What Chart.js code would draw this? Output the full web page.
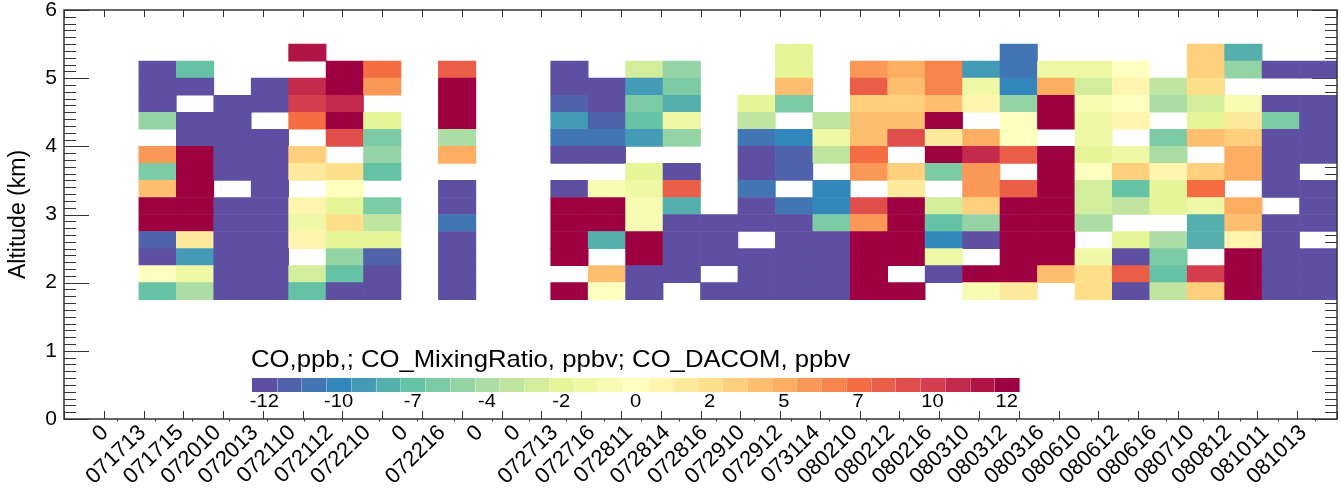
<!DOCTYPE html>
<html>
<head>
<meta charset="utf-8">
<script src="https://cdn.jsdelivr.net/npm/chart.js@4.4.1/dist/chart.umd.min.js"></script>
<style>
  html, body { margin: 0; padding: 0; background: #fff; }
  #wrap { width: 1341px; height: 492px; }
</style>
</head>
<body>
<div id="wrap"><canvas id="chart" width="1341" height="492"></canvas></div>
<script>
// flight/profile labels along x (one per column, first column has none)
const dates = ['0', '071713', '071715', '072010', '072013', '072110', '072112', '072210', '0', '072216',
  '0', '0', '072713', '072716', '072811', '072814', '072816', '072910', '072912', '073114',
  '080210', '080212', '080216', '080310', '080312', '080316', '080610', '080612', '080616',
  '080710', '080812', '081011', '081013'];

// altitude bins (bottom of each bin, km)
const altBottom = [1.75, 2.0, 2.25, 2.5, 2.75, 3.0, 3.25, 3.5, 3.75, 4.0, 4.25, 4.5, 4.75, 5.0, 5.25];
const binDepth = 0.25;

// colour bar
const cbarLabels = ['-12', '-10', '-7', '-4', '-2', '0', '2', '5', '7', '10', '12'];
const cbarMin = -12;
const cbarMax = 12;
const cbarLevels = 31;

// CO difference (ppb) per column, bins bottom -> top, null = no data
const n = null;
const co = [
  [n, n, n, n, n, n, n, n, n, n, n, n, n, n, n],
  [n, n, n, n, n, n, n, n, n, n, n, n, n, n, n],
  [-7.2, 0, -12, -11.2, 12, 12, 4.0, -6.4, 5.6, n, -5.6, -12, -12, -12, n],
  [-4.8, -1.6, -8.8, 1.6, 12, 12, 12, 12, 12, -12, -12, n, -12, -7.2, n],
  [-12, -12, -12, -12, -12, -12, n, -12, -12, -12, -12, -12, n, n, n],
  [-12, -12, -12, -12, -12, -12, -12, -12, -12, -12, n, -12, -12, n, n],
  [-7.2, -3.2, n, 0.8, -1.6, 0.8, n, 1.6, 3.2, n, 7.2, 9.6, 10.4, n, 11.2],
  [-12, -7.2, -5.6, -2.4, 2.4, -2.4, 0, 2.4, n, 8.8, 12, 10.4, 12, 12, n],
  [-12, -12, -11.2, -2.4, -4.0, -6.4, n, -7.2, -5.6, -6.4, -2.4, n, 5.6, 7.2, n],
  [n, n, n, n, n, n, n, n, n, n, n, n, n, n, n],
  [-12, -12, -12, -12, -10.4, -12, -12, n, 4.8, -4.8, 12, 12, 12, 8.0, n],
  [n, n, n, n, n, n, n, n, n, n, n, n, n, n, n],
  [n, n, n, n, n, n, n, n, n, n, n, n, n, n, n],
  [12, n, 12, 12, 12, 12, -12, n, -12, -10.4, -8.8, -11.2, -12, -12, n],
  [0, 4.0, n, -8.0, 12, 12, -0.8, n, -12, -10.4, -11.2, -12, -12, n, n],
  [-12, -12, 12, 12, -0.8, -0.8, -1.6, -2.4, n, -8.8, -7.2, -6.4, -8.8, -3.2, n],
  [n, -12, -12, -12, -12, -8.0, 8.0, -12, n, -5.6, -1.6, -8.0, -6.4, -5.6, n],
  [-12, n, -12, -12, -12, n, n, n, n, n, n, n, n, n, n],
  [-12, -12, -12, n, -12, -12, -10.4, -12, -12, -10.4, -4.0, -2.4, n, n, n],
  [-12, -12, -12, -12, -12, -10.4, n, -11.2, -11.2, -9.6, n, -6.4, 4.0, -2.4, -2.4],
  [-12, -12, -12, -12, -6.4, -9.6, -9.6, n, -4.0, -1.6, -4.0, n, n, n, n],
  [12, 12, 12, 12, 5.6, 8.8, n, 5.6, 7.2, 4.0, 4.0, 3.2, 8.0, 5.6, n],
  [12, n, 12, 12, 12, 12, 1.6, 3.2, n, 8.8, 4.0, 3.2, 4.0, 4.8, n],
  [n, -12, -1.6, -9.6, -7.2, -3.2, n, -6.4, 12, 1.6, 12, 4.0, 6.4, 6.4, n],
  [-0.8, 12, n, -12, -5.6, 3.2, 5.6, 5.6, 10.4, 4.8, n, 0.8, -1.6, -8.8, n],
  [1.6, 12, 12, 12, 12, 12, 8.0, n, 8.0, 0, 0, -5.6, -9.6, -10.4, -10.4],
  [n, 4.0, 12, 12, 12, 12, 12, 12, 12, n, 12, 12, 4.8, -1.6, n],
  [2.4, 2.4, -1.6, n, -4.8, -3.2, -3.2, 0, -2.4, -1.6, -1.6, -0.8, -3.2, -1.6, n],
  [-12, 8.0, -12, -2.4, n, -4.0, -7.2, 3.2, -1.6, n, 0.8, 0, 0.8, 0, n],
  [-4.0, -7.2, -6.4, -4.8, n, -2.4, -2.4, 0.8, -4.8, -6.4, n, -4.8, -4.0, n, n],
  [3.2, 9.6, n, -8.0, -8.0, -1.6, 7.2, 3.2, n, 4.0, -2.4, -3.2, 2.4, 3.2, 3.2],
  [12, 12, 12, 0.8, 4.0, 4.8, n, 4.8, 4.8, 3.2, 1.6, -0.8, n, -5.6, -8.0],
  [-12, -12, -12, -12, -12, n, -12, -12, -12, -12, -6.4, -12, n, -12, n],
  [-12, -12, -12, n, -12, -12, -12, n, -12, -12, -12, -12, n, -12, n]
];

const FONT = '"Liberation Sans", Arial, Helvetica, sans-serif';

// Spectral, reversed (low = purple, high = dark red)
const spectralR = ['#5e4fa2', '#3288bd', '#66c2a5', '#abdda4', '#e6f598', '#ffffbf',
  '#fee08b', '#fdae61', '#f46d43', '#d53e4f', '#9e0142'];
function hexRgb(h) { return [1, 3, 5].map(i => parseInt(h.slice(i, i + 2), 16)); }
function cmap(t) {
  const p = Math.max(0, Math.min(1, t)) * 10;
  const i = Math.min(9, Math.floor(p));
  const f = p - i;
  const a = hexRgb(spectralR[i]), b = hexRgb(spectralR[i + 1]);
  return 'rgb(' + a.map((v, j) => Math.round(v + (b[j] - v) * f)).join(',') + ')';
}
const levelColors = [];
for (let k = 0; k < cbarLevels; k++) levelColors.push(cmap(k / (cbarLevels - 1)));
function colorFor(v) {
  let k = Math.round((v - cbarMin) / (cbarMax - cbarMin) * (cbarLevels - 1));
  k = Math.max(0, Math.min(cbarLevels - 1, k));
  return levelColors[k];
}

const nCols = co.length;
const labelShift = 0.1;

const datasets = altBottom.map((lo, r) => ({
  label: 'bin ' + lo,
  data: co.map((col, c) => col[r] === null ? null : { x: c + 0.5, y: [lo, lo + binDepth], v: col[r] })
          .filter(d => d !== null),
  backgroundColor: ctx => ctx.raw ? colorFor(ctx.raw.v) : '#fff',
  borderWidth: 0
}));

// axes frame, tick marks and colour bar
const decor = {
  id: 'decor',
  beforeDatasetsDraw(chart) {
    const { ctx, chartArea: a, scales: { x, y } } = chart;
    ctx.save();
    ctx.strokeStyle = '#333';
    ctx.lineWidth = 1;
    ctx.beginPath();
    for (let i = 0; i <= 60; i++) {
      const py = Math.round(y.getPixelForValue(i / 10)) + 0.5;
      const len = i % 10 === 0 ? 25 : 12;
      ctx.moveTo(a.left, py); ctx.lineTo(a.left + len, py);
      ctx.moveTo(a.right, py); ctx.lineTo(a.right - len, py);
    }
    for (let k = 0; k <= 32; k++) {
      const px = Math.round(x.getPixelForValue(k * nCols / 32)) + 0.5;
      ctx.moveTo(px, a.top); ctx.lineTo(px, a.top + 7);
      ctx.moveTo(px, a.bottom); ctx.lineTo(px, a.bottom - 8);
    }
    dates.forEach((d, i) => {
      const px = Math.round(x.getPixelForValue(i + 1.42)) + 0.5;
      ctx.moveTo(px, a.bottom); ctx.lineTo(px, a.bottom + 2.5);
    });
    ctx.stroke();
    ctx.restore();
  },
  afterDatasetsDraw(chart) {
    const { ctx, chartArea: a } = chart;
    ctx.save();
    ctx.strokeStyle = '#333';
    ctx.lineWidth = 1.5;
    ctx.strokeRect(a.left, a.top, a.right - a.left, a.bottom - a.top);
    ctx.restore();
  },
  afterDraw(chart) {
    const { ctx } = chart;
    const cb = { x: 252, y: 378, w: 767, h: 14 };
    const segW = cb.w / cbarLevels;
    ctx.save();
    levelColors.forEach((col, k) => {
      ctx.fillStyle = col;
      ctx.fillRect(cb.x + k * segW, cb.y, segW + 0.6, cb.h);
    });
    ctx.strokeStyle = 'rgba(255,255,255,0.35)';
    ctx.lineWidth = 1;
    ctx.beginPath();
    for (let k = 1; k < cbarLevels; k++) {
      const px = Math.round(cb.x + k * segW) + 0.5;
      ctx.moveTo(px, cb.y); ctx.lineTo(px, cb.y + cb.h);
    }
    ctx.stroke();

    ctx.fillStyle = '#000';
    ctx.textBaseline = 'alphabetic';
    ctx.textAlign = 'center';
    ctx.font = '18px ' + FONT;
    const step = (cbarLevels - 1) / (cbarLabels.length - 1);
    cbarLabels.forEach((t, i) => {
      const px = cb.x + (i * step + 0.5) * segW;
      ctx.save();
      ctx.translate(px, 407);
      ctx.scale(1.12, 1);
      ctx.fillText(t, 0, 0);
      ctx.restore();
    });

    ctx.textAlign = 'left';
    ctx.font = '24px ' + FONT;
    ctx.translate(251, 367);
    ctx.scale(1.07, 1);
    ctx.fillText('CO,ppb,; CO_MixingRatio, ppbv; CO_DACOM, ppbv', 0, 0);
    ctx.restore();
  }
};

new Chart(document.getElementById('chart'), {
  type: 'bar',
  data: { datasets },
  options: {
    responsive: false,
    animation: false,
    events: [],
    layout: { padding: { top: 10, right: 4, left: 0, bottom: 0 } },
    datasets: {
      bar: { grouped: false, barPercentage: 1, categoryPercentage: 1, borderWidth: 0 }
    },
    plugins: {
      legend: { display: false },
      tooltip: { enabled: false }
    },
    scales: {
      x: {
        type: 'linear',
        min: 0,
        max: nCols,
        offset: false,
        grid: { display: false, drawTicks: false },
        border: { display: false },
        afterBuildTicks: s => { s.ticks = dates.map((d, i) => ({ value: i + 1 + labelShift })); },
        afterFit: s => { s.height = 73; s.paddingLeft = 0; s.paddingRight = 0; },
        ticks: {
          autoSkip: false,
          minRotation: 44,
          maxRotation: 44,
          padding: 1,
          color: '#000',
          font: { family: FONT, size: 22 },
          callback: (v, i) => dates[i]
        }
      },
      y: {
        type: 'linear',
        min: 0,
        max: 6,
        grid: { display: false, drawTicks: false },
        border: { display: false },
        afterFit: s => { s.width = 64; s.paddingTop = 0; s.paddingBottom = 0; },
        ticks: {
          stepSize: 1,
          padding: 7,
          color: '#000',
          font: { family: FONT, size: 21 }
        },
        title: {
          display: true,
          text: 'Altitude (km)',
          color: '#000',
          font: { family: FONT, size: 23 },
          padding: { top: 5, bottom: 0 }
        }
      }
    }
  },
  plugins: [decor]
});
</script>
</body>
</html>
